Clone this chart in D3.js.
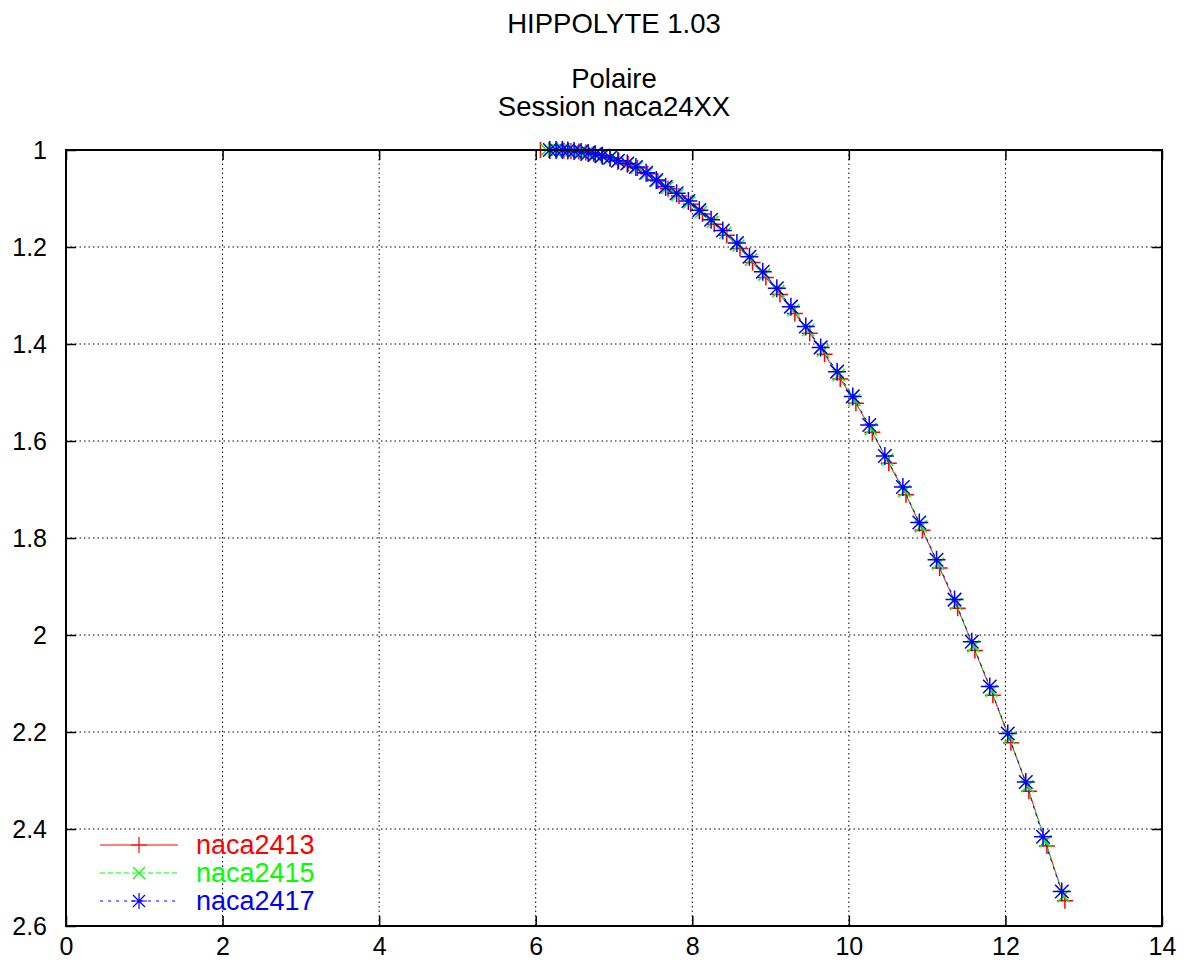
<!DOCTYPE html>
<html>
<head>
<meta charset="utf-8">
<script src="https://cdn.jsdelivr.net/npm/d3@7"></script>
<style>
  body { margin: 0; background: #fff; }
  text { font-family: "Liberation Sans", Arial, sans-serif; }
</style>
</head>
<body>
<div id="chart"></div>
<script>
var svgWidth = 1199;
var svgHeight = 971;

var margin = { top: 150, right: 37, bottom: 45, left: 66 };

var width = svgWidth - margin.left - margin.right;
var height = svgHeight - margin.top - margin.bottom;

// series names and colours
var seriesNames = ["naca2413", "naca2415", "naca2417"];
var seriesColors = ["#ff0000", "#00ff00", "#0000ff"];

var xTicks = [0, 2, 4, 6, 8, 10, 12, 14];
var yTicks = [1, 1.2, 1.4, 1.6, 1.8, 2, 2.2, 2.4, 2.6];

// values
var x2413 = [6.06, 6.17, 6.27, 6.36, 6.45, 6.55, 6.64, 6.74, 6.84, 6.95, 7.06, 7.18, 7.30, 7.43, 7.56, 7.69, 7.83, 7.98, 8.13, 8.28, 8.44, 8.61, 8.77, 8.94, 9.12, 9.31, 9.50, 9.69, 9.89, 10.09, 10.30, 10.51, 10.73, 10.94, 11.16, 11.39, 11.61, 11.84, 12.07, 12.30, 12.53, 12.76];
var y2413 = [1.000, 1.000, 1.000, 1.001, 1.002, 1.003, 1.005, 1.008, 1.011, 1.016, 1.022, 1.029, 1.037, 1.049, 1.064, 1.080, 1.095, 1.112, 1.132, 1.153, 1.176, 1.203, 1.232, 1.263, 1.298, 1.337, 1.378, 1.421, 1.472, 1.522, 1.582, 1.646, 1.711, 1.784, 1.862, 1.945, 2.032, 2.124, 2.222, 2.322, 2.435, 2.548];

var x2415 = [6.14, 6.23, 6.31, 6.39, 6.47, 6.56, 6.65, 6.75, 6.84, 6.95, 7.05, 7.17, 7.29, 7.42, 7.55, 7.68, 7.81, 7.96, 8.11, 8.26, 8.42, 8.59, 8.75, 8.92, 9.10, 9.29, 9.48, 9.67, 9.87, 10.07, 10.28, 10.49, 10.71, 10.92, 11.14, 11.37, 11.59, 11.82, 12.05, 12.28, 12.51, 12.74];
var y2415 = [1.000, 1.000, 1.000, 1.001, 1.002, 1.004, 1.006, 1.009, 1.012, 1.016, 1.022, 1.029, 1.036, 1.048, 1.063, 1.078, 1.092, 1.108, 1.128, 1.148, 1.171, 1.197, 1.226, 1.257, 1.291, 1.330, 1.371, 1.414, 1.464, 1.515, 1.575, 1.638, 1.703, 1.776, 1.853, 1.936, 2.023, 2.115, 2.212, 2.312, 2.425, 2.538];

var x2417 = [6.18, 6.26, 6.34, 6.41, 6.49, 6.58, 6.67, 6.76, 6.85, 6.95, 7.05, 7.17, 7.28, 7.41, 7.54, 7.66, 7.80, 7.95, 8.09, 8.24, 8.39, 8.57, 8.73, 8.90, 9.08, 9.26, 9.45, 9.64, 9.85, 10.05, 10.26, 10.46, 10.69, 10.90, 11.12, 11.35, 11.57, 11.80, 12.03, 12.26, 12.48, 12.72];
var y2417 = [1.000, 1.000, 1.000, 1.001, 1.002, 1.004, 1.006, 1.009, 1.012, 1.016, 1.022, 1.028, 1.035, 1.047, 1.062, 1.076, 1.089, 1.105, 1.124, 1.144, 1.166, 1.192, 1.220, 1.251, 1.285, 1.323, 1.364, 1.407, 1.457, 1.508, 1.567, 1.631, 1.695, 1.768, 1.845, 1.927, 2.014, 2.106, 2.203, 2.303, 2.416, 2.529];

var seriesX = [x2413, x2415, x2417];
var seriesY = [y2413, y2415, y2417];
var dashes = [null, "5,3", "3,5"];
var markers = ["plus", "cross", "star"];

var svg = d3.select("#chart")
  .append("svg")
  .attr("width", svgWidth)
  .attr("height", svgHeight);

// titles
svg.append("text").attr("x", 614).attr("y", 33).attr("text-anchor", "middle")
  .attr("font-size", 27.5).text("HIPPOLYTE 1.03");
svg.append("text").attr("x", 614).attr("y", 88).attr("text-anchor", "middle")
  .attr("font-size", 27.5).text("Polaire");
svg.append("text").attr("x", 614).attr("y", 116).attr("text-anchor", "middle")
  .attr("font-size", 27.5).text("Session naca24XX");

var chartGroup = svg.append("g")
  .attr("transform", `translate(${margin.left}, ${margin.top})`);

var xScale = d3.scaleLinear().domain([0, 14]).range([0, width]);
var yScale = d3.scaleLinear().domain([1, 2.6]).range([0, height]);

// grid lines (dotted)
chartGroup.append("g")
  .selectAll("line")
  .data(xTicks.slice(1, -1))
  .enter()
  .append("line")
  .attr("x1", d => xScale(d)).attr("x2", d => xScale(d))
  .attr("y1", 0).attr("y2", height)
  .attr("stroke", "#000").attr("stroke-width", 1).attr("stroke-dasharray", "1.5,3");

chartGroup.append("g")
  .selectAll("line")
  .data(yTicks.slice(1, -1))
  .enter()
  .append("line")
  .attr("x1", 0).attr("x2", width)
  .attr("y1", d => yScale(d)).attr("y2", d => yScale(d))
  .attr("stroke", "#000").attr("stroke-width", 1).attr("stroke-dasharray", "1.5,3");

// axes, ticks pointing inward
var bottomAxis = d3.axisBottom(xScale).tickValues(xTicks).tickSize(-10).tickPadding(11).tickFormat(d3.format("d"));
var topAxis = d3.axisTop(xScale).tickValues(xTicks).tickSize(-10).tickFormat("");
var leftAxis = d3.axisLeft(yScale).tickValues(yTicks).tickSize(-10).tickPadding(19).tickFormat(d => d3.format("")(+d.toFixed(1)));
var rightAxis = d3.axisRight(yScale).tickValues(yTicks).tickSize(-10).tickFormat("");

function styleAxis(g) {
  g.select(".domain").remove();
  g.selectAll(".tick line").attr("stroke", "#000").attr("stroke-width", 1.5);
  g.selectAll(".tick text").attr("font-size", 25).attr("fill", "#000")
    .style("font-family", "'Liberation Sans', Arial, sans-serif");
}

chartGroup.append("g").attr("transform", `translate(0, ${height})`).call(bottomAxis).call(styleAxis);
chartGroup.append("g").call(topAxis).call(styleAxis);
chartGroup.append("g").call(leftAxis).call(styleAxis);
chartGroup.append("g").attr("transform", `translate(${width}, 0)`).call(rightAxis).call(styleAxis);

// marker shapes
function markerPath(type, s) {
  var p = `M${-s},0L${s},0M0,${-s}L0,${s}`;
  var c = s * 0.75;
  var xp = `M${-c},${-c}L${c},${c}M${-c},${c}L${c},${-c}`;
  if (type === "plus") return p;
  if (type === "cross") return xp;
  return p + xp;
}

var line = d3.line()
  .x(d => xScale(d[0]))
  .y(d => yScale(d[1]));

seriesNames.forEach(function (name, i) {
  var pts = seriesX[i].map((x, j) => [x, seriesY[i][j]]);
  var g = chartGroup.append("g");

  g.append("path")
    .datum(pts)
    .attr("d", line)
    .attr("fill", "none")
    .attr("stroke", seriesColors[i])
    .attr("stroke-width", 1)
    .attr("stroke-dasharray", dashes[i]);

  g.selectAll(".mk")
    .data(pts)
    .enter()
    .append("path")
    .attr("transform", d => `translate(${xScale(d[0])}, ${yScale(d[1])})`)
    .attr("d", markerPath(markers[i], i === 2 ? 9 : 8))
    .attr("fill", "none")
    .attr("stroke", seriesColors[i])
    .attr("stroke-width", 1.5);

  // legend entry
  var ly = 845 - margin.top + i * 28;
  g.append("line")
    .attr("x1", 100 - margin.left).attr("x2", 178 - margin.left)
    .attr("y1", ly).attr("y2", ly)
    .attr("stroke", seriesColors[i]).attr("stroke-width", 1)
    .attr("stroke-dasharray", dashes[i]);
  g.append("path")
    .attr("transform", `translate(${139 - margin.left}, ${ly})`)
    .attr("d", markerPath(markers[i], 8))
    .attr("fill", "none")
    .attr("stroke", seriesColors[i]).attr("stroke-width", 1.2);
  g.append("text")
    .attr("x", 196 - margin.left).attr("y", ly + 9)
    .attr("font-size", 27)
    .attr("fill", seriesColors[i])
    .text(name);
});

// border on top
chartGroup.append("rect")
  .attr("width", width).attr("height", height)
  .attr("fill", "none").attr("stroke", "#000").attr("stroke-width", 2);
</script>
</body>
</html>
